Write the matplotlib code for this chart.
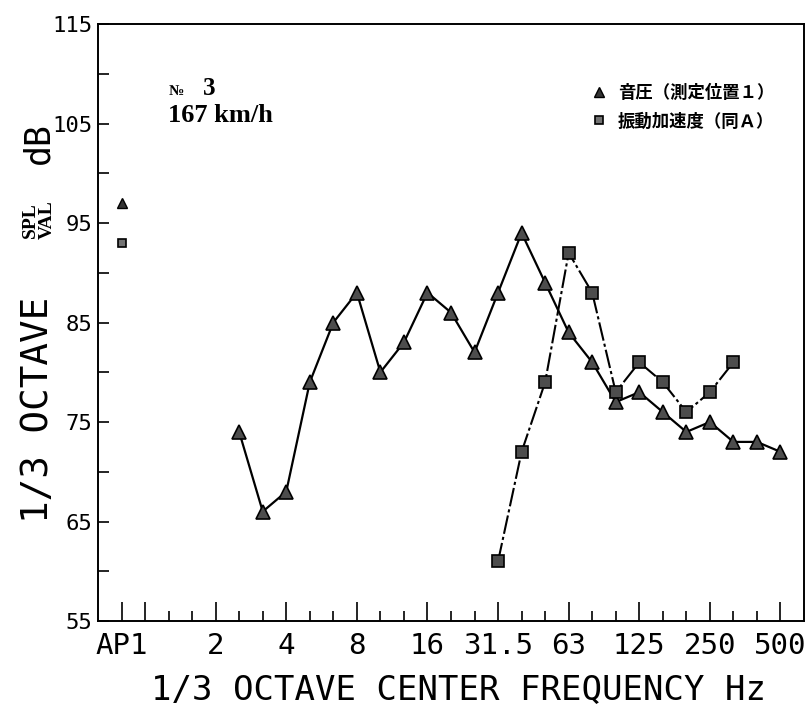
import matplotlib.pyplot as plt
from matplotlib.lines import Line2D

# 1/3 octave band labels (index 0 is the overall "AP1" value)
bands = ['AP1', '1', '1.25', '1.6', '2', '2.5', '3.15', '4', '5', '6.3', '8', '10',
         '12.5', '16', '20', '25', '31.5', '40', '50', '63', '80', '100', '125', '160',
         '200', '250', '315', '400', '500']
octave_bands = ['AP1', '1', '2', '4', '8', '16', '31.5', '63', '125', '250', '500']
octave_labels = ['AP1', '', '2', '4', '8', '16', '31.5', '63', '125', '250', '500']

# sound pressure level (measuring position 1)
spl_bands = ['2.5', '3.15', '4', '5', '6.3', '8', '10', '12.5', '16', '20', '25', '31.5',
             '40', '50', '63', '80', '100', '125', '160', '200', '250', '315', '400', '500']
spl_values = [74, 66, 68, 79, 85, 88, 80, 83, 88, 86, 82, 88,
              94, 89, 84, 81, 77, 78, 76, 74, 75, 73, 73, 72]
spl_ap = 97

# vibration acceleration level
val_bands = ['31.5', '40', '50', '63', '80', '100', '125', '160', '200', '250', '315']
val_values = [61, 72, 79, 92, 88, 78, 81, 79, 76, 78, 81]
val_ap = 93

yticks_major = [55, 65, 75, 85, 95, 105, 115]
yticks_minor = [60, 70, 80, 90, 100, 110]

legend_labels = ['音圧（測定位置１）', '振動加速度（同Ａ）']

pos = {b: i for i, b in enumerate(bands)}
plot_font = 'DejaVu Sans Mono'

fig = plt.figure(figsize=(8.12, 7.08), dpi=100)
ax = fig.add_axes([98 / 812, 1 - 621 / 708, (804 - 98) / 812, (621 - 24) / 708])

ax.plot([pos[b] for b in spl_bands], spl_values, color='black', lw=1.6,
        marker='^', ms=10, mfc='0.3', mec='black', mew=1.2)
ax.plot([pos[b] for b in val_bands], val_values, color='black', lw=1.5,
        ls=(0, (9, 1.5, 1.5, 1.5)), marker='s', ms=8, mfc='0.3', mec='black', mew=1.2)
ax.plot([pos['AP1']], [spl_ap], ls='none', marker='^', ms=7, mfc='0.2', mec='black')
ax.plot([pos['AP1']], [val_ap], ls='none', marker='s', ms=5.5, mfc='0.45', mec='black', mew=1.2)

ax.set_xlim(-1, len(bands))
ax.set_ylim(55, 115)

ax.set_xticks([pos[b] for b in octave_bands])
ax.set_xticklabels(octave_labels)
ax.set_xticks([pos[b] for b in bands if b not in octave_bands], minor=True)
ax.set_yticks(yticks_major)
ax.set_yticks(yticks_minor, minor=True)

ax.tick_params(axis='x', which='major', direction='in', length=14, width=1.2,
               labelsize=21, pad=8)
ax.tick_params(axis='x', which='minor', direction='in', length=7, width=1.2)
ax.tick_params(axis='y', which='both', direction='in', length=8, width=1.2,
               labelsize=16, pad=4)
for lab in ax.get_xticklabels() + ax.get_yticklabels():
    lab.set_family(plot_font)
for sp in ax.spines.values():
    sp.set_linewidth(1.4)

# axis titles
fig.text(459 / 812, 1 - 690 / 708, '1/3 OCTAVE CENTER FREQUENCY Hz', family=plot_font,
         fontsize=24.5, ha='center', va='center')
fig.text(38 / 812, 1 - 410 / 708, '1/3 OCTAVE', family=plot_font, fontsize=27,
         rotation=90, ha='center', va='center')
fig.text(39 / 812, 1 - 220 / 708, 'SPL\nVAL', family='Liberation Serif', weight='bold',
         fontsize=14, rotation=90, ha='center', va='center', linespacing=1.0)
fig.text(38 / 812, 1 - 143 / 708, 'dB', family=plot_font, fontsize=25,
         rotation=90, ha='center', va='center')

# run annotation
fig.text(169 / 812, 1 - 95 / 708, '№', family='Liberation Serif', weight='bold',
         fontsize=11, ha='left', va='baseline')
fig.text(203 / 812, 1 - 95 / 708, '3', family='Liberation Serif', weight='bold',
         fontsize=18, ha='left', va='baseline')
fig.text(168 / 812, 1 - 122 / 708, '167 km/h', family='Liberation Serif', weight='bold',
         fontsize=19, ha='left', va='baseline')

# legend
handles = [Line2D([], [], ls='none', marker='^', ms=7, mfc='0.2', mec='black'),
           Line2D([], [], ls='none', marker='s', ms=6, mfc='0.45', mec='black', mew=1.2)]
ax.legend(handles, legend_labels, loc='upper left', bbox_to_anchor=(590 / 812, 1 - 84 / 708),
          bbox_transform=fig.transFigure, frameon=False, borderpad=0, borderaxespad=0,
          handlelength=1.0, handletextpad=0.6, labelspacing=0.6,
          prop={'family': ['Noto Sans CJK JP', 'DejaVu Sans'], 'weight': 'bold', 'size': 12.5})

fig.savefig('out.png', dpi=100)
